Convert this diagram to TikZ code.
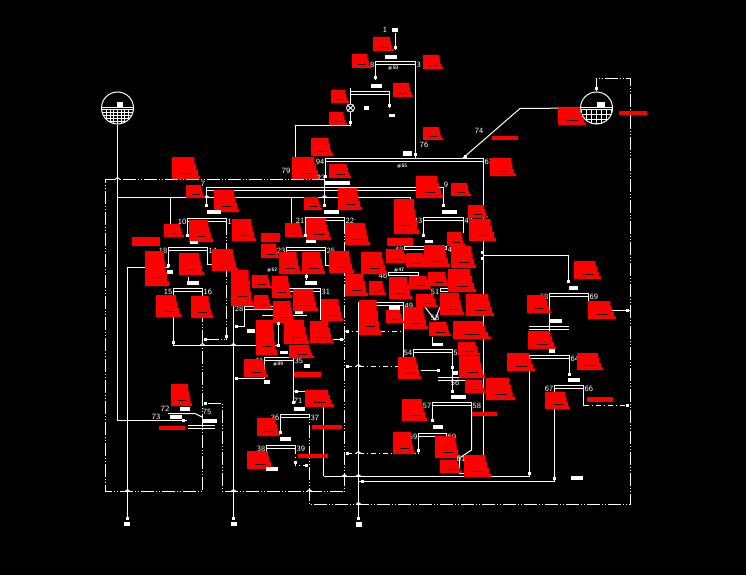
\documentclass[tikz,border=0pt]{standalone}
\usepackage{amsmath}
\usetikzlibrary{arrows, positioning, calc, shapes.misc}
\tikzset{%
	pipe/.style={draw=white, line width=1pt},
	dashpipe/.style={pipe, dash pattern=on 13pt off 2pt on 1pt off 2pt on 1pt off 2pt},
	sparse/.style={pipe, dash pattern=on 5pt off 3pt on 1pt off 3pt},
	lbl/.style={text=white, inner sep=0pt, font=\fontsize{8}{8}\sffamily},
	mini/.style={text=white, inner sep=0pt, font=\fontsize{5}{5}\sffamily\bfseries},
	vessel/.style={draw=white, line width=1pt, circle, minimum size=32pt, inner sep=0pt}
}
% double header with its two end numbers
\newcommand{\hdr}[6]{%
	\draw [pipe] (#2,#4+3) |- (#3,#4) -- (#3,#4+3) -- (#2,#4+3);
	\coordinate (#1l) at (#2,#4+3);
	\coordinate (#1r) at (#3,#4+3);
	\node [lbl, left=1pt of #1l] (#1a) {#5};
	\node [lbl, right=1pt of #1r] (#1b) {#6};
}
% vessel, grid in its lower half
\newcommand{\vsl}[5]{%
	\node [vessel] (#1) at (#2,#3) {};
	\begin{scope}
		\clip (#2,#3) circle (16pt);
		\foreach \k in {0,...,5} \draw [pipe] (#2-17,#3+2+\k*#4) -- (#2+17,#3+2+\k*#4);
		\foreach \k in {-3,...,3} \draw [pipe] (#2+\k*#5,#3+2) -- (#2+\k*#5,#3+17);
	\end{scope}
	\draw [pipe] (#2-16,#3) -- (#2+16,#3);
}

\begin{document}
\begin{tikzpicture}[x=1pt, y=-1pt]
	\fill [black] (0,0) rectangle (746,575);
	\useasboundingbox (0,0) rectangle (746,575);

	%vessels
	\vsl{tankl}{117.5}{108}{2.8}{3.6}
	\vsl{tankr}{596.5}{108}{4.6}{5}
	\coordinate (topr) at (630.5,78.5);
	\draw [dashpipe] (tankr.north) |- (topr) -- (630.5,504.5) -- (309.5,504.5) -- (309.5,417);
	\draw [pipe] (tankl.south) -- (117.5,420.5) -- (187,420.5);
	\draw [pipe] (tankr.west) -- (520,108.5) -- (463,158);

	%top
	\hdr{u8}{375.5}{415.5}{61.5}{8}{3}
	\hdr{u65}{325.5}{483.5}{158.5}{94}{63}
	\draw [pipe] (395.5,33) -- (395.5,50);
	\draw [pipe] (u8l) -- (375.5,80);
	\draw [pipe] (u8r) -- (415.5,158);
	\draw [pipe] (350.5,88) -- (350.5,104);
	\node [draw=white, line width=0.8pt, cross out, minimum size=5.5pt, inner sep=0pt] (valve) at (350.5,108) {};
	\node [draw=white, line width=0.8pt, circle, minimum size=8pt, inner sep=0pt] (valvec) at (350.5,108) {};
	\draw [pipe] (valvec.south) -- (350.5,125.5) -- (295.5,125.5) -- (295.5,157);
	\draw [pipe] (350.5,91.5) -- (389.5,91.5) -- (389.5,108);
	\draw [pipe] (350.5,94.5) -- (389.5,94.5);
	\draw [pipe] (u65l) -- (325.5,177);
	\draw [pipe] (u65r) -- (483.5,476);

	%outer loops
	\draw [dashpipe] (325,179.5) -- (105.5,179.5) -- (105.5,491.5) -- (202.5,491.5) -- (202.5,291);
	\draw [pipe] (117.5,197.5) -- (410.5,197.5) -- (410.5,205);
	\draw [pipe] (206.5,207) -- (206.5,187.5) -- (443.5,187.5) -- (443.5,205);
	\draw [pipe] (206.5,190.5) -- (440,190.5);
	\draw [pipe] (324.5,179) -- (324.5,207);
	\draw [pipe] (170.5,197.5) -- (170.5,224);
	\draw [pipe] (291.5,197.5) -- (291.5,223);

	%left units
	\hdr{u10}{187.5}{226.5}{218.5}{10}{11}
	\hdr{u18}{168.5}{207.5}{247.5}{18}{14}
	\hdr{u15}{173.5}{202.5}{288.5}{15}{16}
	\draw [pipe] (u10l) -- (187.5,236);
	\draw [dashpipe] (u10r) -- (226.5,339.5) -- (205,339.5);
	\draw [pipe] (u18l) -- (168.5,267.5) -- (127.5,267.5) -- (127.5,518);
	\draw [pipe] (u18r) -- (207.5,264.5) -- (212,264.5);
	\draw [pipe] (188.5,277) -- (188.5,282);
	\draw [pipe] (u15l) -- (173.5,345.5) -- (278.5,345.5) -- (278.5,323);
	\draw [pipe] (233.5,306) -- (233.5,518);
	\draw [pipe] (236,326.5) -- (244.5,326.5) -- (244.5,306.5) -- (280,306.5);
	\draw [pipe] (244.5,309.5) -- (280,309.5);
	\node [lbl] (n28) at (239,309) {28};

	%middle units
	\hdr{u21}{305.5}{344.5}{217.5}{21}{22}
	\hdr{u23}{286.5}{325.5}{247.5}{23}{25}
	\hdr{u31}{289.5}{320.5}{288.5}{}{31}
	\hdr{u49}{358.5}{403.5}{302.5}{}{49}
	\hdr{u48}{404.5}{446.5}{246.5}{48}{45}
	\hdr{u46}{388.5}{418.5}{272.5}{46}{}
	\hdr{u43}{423.5}{463.5}{217.5}{43}{42}
	\hdr{u51}{440.5}{466.5}{288.5}{51}{}
	\draw [pipe] (u21l) -- (305.5,237);
	\draw [dashpipe] (u21r) -- (344.5,491.5) -- (222.5,491.5) -- (222.5,403.5) -- (205,403.5);
	\draw [pipe] (u23l) -- (286.5,255);
	\draw [pipe] (u23r) -- (325.5,265.5) -- (329,265.5);
	\draw [pipe] (306.5,274) -- (306.5,280);
	\draw [pipe] (u31r) -- (320.5,320);
	\draw [pipe] (333,339.5) -- (344,339.5);
	\draw [sparse] (344,331.5) -- (403,331.5);
	\draw [pipe] (u43l) -- (423.5,237);
	\draw [pipe] (u43r) -- (463.5,233);
	\draw [pipe] (u49l) -- (358.5,518);
	\draw [pipe] (403.5,305) -- (403.5,360);
	\draw [pipe] (262,315.5) -- (307,315.5);
	\draw [pipe] (425,307) -- (435,320) -- (440,307);
	\draw [pipe] (432.5,337) -- (432.5,345);
	\node [lbl] (n33) at (435,318) {53};

	%lower left
	\hdr{u41}{264.5}{293.5}{357.5}{41}{35}
	\hdr{u36}{280.5}{309.5}{414.5}{36}{37}
	\hdr{u38}{266.5}{295.5}{445.5}{38}{39}
	\draw [pipe] (u41l) -- (264.5,378.5) -- (235,378.5);
	\draw [pipe] (u41r) -- (293.5,404);
	\draw [pipe] (294,391.5) -- (323.5,391.5) -- (323.5,476);
	\draw [pipe] (u36l) -- (280.5,433);
	\draw [sparse] (u38r) -- (295.5,465.5) -- (309,465.5);
	\draw [pipe] (u38l) -- (266.5,465);
	\draw [pipe] (168,413.5) -- (195,413.5) -- (202,417);
	\draw [pipe] (188,425.5) -- (215,425.5);
	\draw [pipe] (188,428.5) -- (215,428.5);

	%lower right
	\hdr{u54}{413.5}{452.5}{349.5}{54}{53}
	\hdr{u57}{432.5}{471.5}{402.5}{57}{58}
	\hdr{u59}{418.5}{446.5}{433.5}{59}{60}
	\hdr{u65b}{529.5}{569.5}{355.5}{65}{64}
	\hdr{u67}{554.5}{583.5}{385.5}{67}{66}
	\hdr{u68}{549.5}{588.5}{293.5}{68}{69}
	\draw [pipe] (u54l) -- (413.5,357);
	\draw [pipe] (u54r) -- (452.5,392);
	\draw [pipe] (421,370.5) -- (440,370.5);
	\draw [pipe] (438,377.5) -- (466,377.5);
	\draw [pipe] (438,380.5) -- (466,380.5);
	\draw [pipe] (u57l) -- (432.5,420);
	\draw [pipe] (u57r) -- (471.5,450) -- (459.5,458) -- (459.5,473.5) -- (465,473.5);
	\draw [sparse] (347,366.5) -- (398,366.5);
	\draw [sparse] (347,453.5) -- (418.5,453.5);
	\draw [pipe] (418.5,453.5) -- (u59l);
	\draw [pipe] (323.5,476.5) -- (529.5,476.5) -- (u65bl);
	\draw [pipe] (u65br) -- (569.5,375);
	\draw [pipe] (359,481.5) -- (554.5,481.5) -- (u67l);
	\draw [pipe] (u67r) -- (583.5,405.5);
	\draw [sparse] (583.5,405.5) -- (630,405.5);
	\draw [pipe] (483,255.5) -- (568.5,255.5) -- (568.5,282);
	\draw [pipe] (u68l) -- (549.5,351);
	\draw [pipe] (u68r) -- (588.5,305);
	\draw [pipe] (610,310.5) -- (630,310.5);
	\draw [pipe] (529,326.5) -- (569,326.5);
	\draw [pipe] (529,329.5) -- (569,329.5);

	%line hops
	\foreach \x/\y in {206.5/197.5, 324.5/197.5, 202.5/345.5, 233.5/345.5, 127.5/491.5, 233.5/491.5,
		358.5/366.5, 358.5/453.5, 358.5/476.5, 358.5/504.5, 344.5/476.5, 309.5/491.5, 117.5/179.5} {
		\draw [pipe] (\x-2.5,\y) -- ++(2.5,-2) -- ++(2.5,2);
	}

	%red blocks
	\foreach \x/\y/\w/\h in {373/37/21/14, 352/54/19/14, 423/55/20/14, 331/90/18/13, 393/83/20/14,
		329/112/18/13, 311/138/22/18, 423/127/20/13, 172/157/28/22, 292/157/28/22, 490/158/26/18,
		329/164/22/14, 416/176/27/22, 451/183/20/13, 558/108/28/17, 186/185/19/13, 214/190/25/22,
		338/188/24/22, 304/197/18/13, 394/199/25/35, 468/205/20/13, 469/219/27/22, 189/220/24/22,
		232/219/24/22, 164/224/20/13, 306/218/25/22, 285/223/19/14, 345/223/25/22, 447/232/18/14,
		261/244/19/14, 451/246/25/22, 145/251/24/35, 179/253/25/22, 212/249/26/22, 279/252/22/22,
		302/252/23/22, 329/251/25/22, 361/252/26/22, 386/249/22/14, 406/253/21/14, 424/245/26/22,
		574/261/27/18, 448/269/28/23, 231/270/22/36, 345/274/23/22, 252/275/20/13, 272/276/20/22,
		369/281/17/14, 389/277/23/22, 409/276/22/13, 428/272/21/14, 293/289/25/22, 416/294/22/13,
		440/293/24/22, 466/294/28/22, 527/295/24/18, 156/295/25/22, 191/296/22/22, 254/295/18/14,
		273/301/22/22, 321/299/22/22, 588/301/28/18, 359/300/22/35, 386/310/18/13, 404/307/24/22,
		453/321/38/18, 429/322/22/14, 256/320/21/35, 284/320/25/24, 310/321/23/22, 528/331/28/18,
		289/345/25/13, 458/342/22/13, 507/353/28/18, 577/353/26/17, 459/356/26/22, 398/357/23/22,
		244/359/24/18, 465/380/21/13, 486/378/29/22, 171/384/21/22, 545/392/25/17, 305/390/29/17,
		402/399/25/22, 257/418/23/18, 393/432/22/22, 435/436/25/22, 247/451/26/18, 440/460/22/13,
		464/455/27/22} {
		\fill [red] (\x,\y) -- ++(.8*\w,0) -- ++(0,.3*\h) -- ++(.06*\w,0) -- ++(0,.3*\h)
			-- ++(.06*\w,0) -- ++(0,.25*\h) -- ++(.08*\w,0) -- ++(0,.15*\h) -- ++(-\w,0) -- cycle;
		\draw [black, line width=0.6pt] (\x+.32*\w,\y+.74*\h) -- ++(.4*\w,0);
	}
	\foreach \x/\y/\w/\h in {492/136/26/4, 619/111/28/4, 132/237/28/9, 261/233/19/9, 387/238/26/8,
		159/426/26/4, 294/372/27/5, 312/425/30/4, 298/454/30/4, 472/412/25/4, 587/397/26/5} {
		\fill [red] (\x,\y) rectangle ++(\w,\h);
	}

	%white tags
	\foreach \x/\y/\w/\h in {392/28/6/4, 385/55/12/4, 371/84/11/4, 389/114/6/3, 364/106/5/4,
		403/151/9/5, 325/181/25/4, 207/210/14/4, 324/210/15/4, 442/210/15/4, 425/240/8/3, 190/241/8/3,
		306/240/10/3, 167/270/6/4, 187/281/12/4, 305/281/12/4, 247/329/8/4, 389/306/11/4, 432/343/11/3,
		295/311/8/3, 280/351/8/3, 569/286/9/4, 549/319/13/4, 549/349/6/4, 568/378/12/4, 264/380/6/4,
		304/364/6/4, 294/407/11/4, 280/437/11/4, 266/467/12/4, 180/407/10/4, 170/415/12/4, 203/419/14/4,
		124/522/6/4, 231/522/6/4, 356/522/6/5, 451/395/15/4, 452/371/6/4, 433/425/10/4, 571/476/12/4,
		117/102/6/5, 597/102/8/5} {
		\fill [white] (\x,\y) rectangle ++(\w,\h);
	}

	%end squares
	\foreach \x/\y in {395.5/48, 375.5/78, 389.5/106, 350.5/122, 415.5/154, 465/156, 596.5/89, 325.5/176,
		206.5/205, 324.5/205, 443.5/205, 187.5/235, 226.5/336, 205/339.5, 168.5/265, 173.5/342, 278.5/323,
		236/326.5, 278.5/345, 305.5/235, 423.5/235, 306.5/276, 341/339.5, 347/331.5, 347/366.5, 347/453.5,
		418.5/450, 452.5/367, 452.5/391, 438/370.5, 432.5/420, 529.5/473, 569.5/374, 362/481.5, 554.5/478,
		627/405.5, 568.5/281, 627/310.5, 482.5/252, 482.5/258, 236/378.5, 296/391.5, 293.5/402, 280.5/432,
		295.5/462, 306/465.5, 205/403.5, 183/420.5, 127.5/518, 233.5/518, 358.5/518} {
		\fill [white] (\x-1.5,\y-1.5) rectangle ++(3,3);
	}

	%numbers
	\foreach \x/\y/\t in {385/30/1, 286/171/79, 321/178/23, 203/184/7, 446/185/9, 479/131/74,
		424/145/76, 165/409/72, 156/417/73, 207/412/75, 298/401/71, 455/383/56, 461/459/61} {
		\node [lbl] (n\t) at (\x,\y) {\t};
	}
	\foreach \x/\y/\t in {393/68/\#50, 402/166/\#65, 278/364/\#09, 272/270/\#62, 399/270/\#47} {
		\node [mini] at (\x,\y) {\t};
	}
\end{tikzpicture}
\end{document}
